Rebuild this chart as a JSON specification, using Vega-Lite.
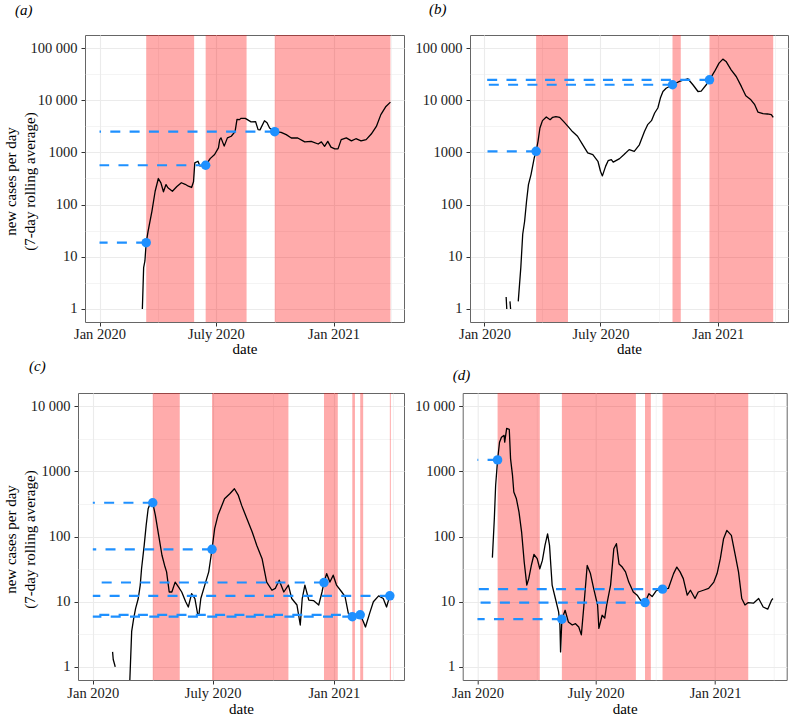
{
  "$schema": "https://vega.github.io/schema/vega-lite/v6.json",
  "padding": {"left": 2, "top": 1, "right": 0, "bottom": 0},
  "background": "#ffffff",
  "columns": 1,
  "bounds": "full",
  "align": "none",
  "spacing": 1,
  "config": {
    "font": "Liberation Serif",
    "view": {"stroke": "#666666", "strokeWidth": 1},
    "axis": {"labelFont": "Liberation Serif", "titleFont": "Liberation Serif", "labelFontSize": 14.5, "titleFontSize": 15, "titleFontWeight": "normal", "labelColor": "#1a1a1a", "titleColor": "#000000", "tickColor": "#333333", "tickSize": 4, "domain": false, "grid": true, "gridColor": "#ebebeb", "labelOverlap": false, "labelFlush": false},
    "title": {"font": "Liberation Serif", "fontSize": 15, "fontWeight": "normal", "fontStyle": "italic", "anchor": "start", "frame": "group", "color": "#000000"}
  },
  "datasets": {
    "lockdowns": [
      {"panel": "a", "start": "2020-03-14", "end": "2020-05-28"},
      {"panel": "a", "start": "2020-06-15", "end": "2020-08-18"},
      {"panel": "a", "start": "2020-10-01", "end": "2021-03-31"},
      {"panel": "b", "start": "2020-03-22", "end": "2020-05-11"},
      {"panel": "b", "start": "2020-10-22", "end": "2020-11-04"},
      {"panel": "b", "start": "2020-12-19", "end": "2021-03-29"},
      {"panel": "c", "start": "2020-04-01", "end": "2020-05-12"},
      {"panel": "c", "start": "2020-06-30", "end": "2020-10-24"},
      {"panel": "c", "start": "2020-12-17", "end": "2021-01-07"},
      {"panel": "c", "start": "2021-01-29", "end": "2021-02-02"},
      {"panel": "c", "start": "2021-02-10", "end": "2021-02-14T12:00:00Z"},
      {"panel": "c", "start": "2021-03-27", "end": "2021-03-28T12:00:00Z"},
      {"panel": "d", "start": "2020-02-01", "end": "2020-04-06"},
      {"panel": "d", "start": "2020-05-10", "end": "2020-09-01"},
      {"panel": "d", "start": "2020-09-15", "end": "2020-09-24"},
      {"panel": "d", "start": "2020-10-12", "end": "2021-02-21"}
    ],
    "markers": [
      {"panel": "a", "date": "2020-03-14", "value": 18.6},
      {"panel": "a", "date": "2020-06-15", "value": 567},
      {"panel": "a", "date": "2020-10-01", "value": 2500},
      {"panel": "b", "date": "2020-03-22", "value": 1050},
      {"panel": "b", "date": "2020-10-22", "value": 19800},
      {"panel": "b", "date": "2020-12-19", "value": 24650},
      {"panel": "c", "date": "2020-04-01", "value": 329},
      {"panel": "c", "date": "2020-06-30", "value": 63.7},
      {"panel": "c", "date": "2020-12-17", "value": 19.7},
      {"panel": "c", "date": "2021-01-29", "value": 5.9},
      {"panel": "c", "date": "2021-02-10", "value": 6.3},
      {"panel": "c", "date": "2021-03-27", "value": 12.3},
      {"panel": "d", "date": "2020-02-01", "value": 1495},
      {"panel": "d", "date": "2020-05-10", "value": 5.4},
      {"panel": "d", "date": "2020-09-15", "value": 9.7},
      {"panel": "d", "date": "2020-10-12", "value": 15.6}
    ],
    "cases": [
      {"panel": "a", "date": "2020-03-08", "value": 1.0},
      {"panel": "a", "date": "2020-03-10", "value": 6.2},
      {"panel": "a", "date": "2020-03-12", "value": 8.3},
      {"panel": "a", "date": "2020-03-14", "value": 18.6},
      {"panel": "a", "date": "2020-03-17", "value": 31},
      {"panel": "a", "date": "2020-03-23", "value": 75},
      {"panel": "a", "date": "2020-03-28", "value": 180},
      {"panel": "a", "date": "2020-04-02", "value": 316},
      {"panel": "a", "date": "2020-04-06", "value": 261},
      {"panel": "a", "date": "2020-04-10", "value": 176},
      {"panel": "a", "date": "2020-04-14", "value": 242},
      {"panel": "a", "date": "2020-04-17", "value": 210},
      {"panel": "a", "date": "2020-04-24", "value": 180},
      {"panel": "a", "date": "2020-05-01", "value": 222},
      {"panel": "a", "date": "2020-05-08", "value": 262},
      {"panel": "a", "date": "2020-05-14", "value": 245},
      {"panel": "a", "date": "2020-05-19", "value": 225},
      {"panel": "a", "date": "2020-05-24", "value": 213},
      {"panel": "a", "date": "2020-05-27", "value": 274},
      {"panel": "a", "date": "2020-05-29", "value": 630},
      {"panel": "a", "date": "2020-06-03", "value": 676},
      {"panel": "a", "date": "2020-06-06", "value": 550},
      {"panel": "a", "date": "2020-06-15", "value": 567},
      {"panel": "a", "date": "2020-06-22", "value": 760},
      {"panel": "a", "date": "2020-06-29", "value": 910},
      {"panel": "a", "date": "2020-07-05", "value": 1220},
      {"panel": "a", "date": "2020-07-07", "value": 1760},
      {"panel": "a", "date": "2020-07-09", "value": 1900},
      {"panel": "a", "date": "2020-07-14", "value": 1320},
      {"panel": "a", "date": "2020-07-19", "value": 1900},
      {"panel": "a", "date": "2020-07-25", "value": 2040},
      {"panel": "a", "date": "2020-07-31", "value": 2510},
      {"panel": "a", "date": "2020-08-03", "value": 4300},
      {"panel": "a", "date": "2020-08-07", "value": 4240},
      {"panel": "a", "date": "2020-08-09", "value": 4500},
      {"panel": "a", "date": "2020-08-16", "value": 4500},
      {"panel": "a", "date": "2020-08-25", "value": 3850},
      {"panel": "a", "date": "2020-09-01", "value": 3900},
      {"panel": "a", "date": "2020-09-05", "value": 2730},
      {"panel": "a", "date": "2020-09-08", "value": 2700},
      {"panel": "a", "date": "2020-09-15", "value": 4050},
      {"panel": "a", "date": "2020-09-19", "value": 3700},
      {"panel": "a", "date": "2020-09-23", "value": 2940},
      {"panel": "a", "date": "2020-10-01", "value": 2500},
      {"panel": "a", "date": "2020-10-11", "value": 2420},
      {"panel": "a", "date": "2020-10-19", "value": 2190},
      {"panel": "a", "date": "2020-10-27", "value": 1890},
      {"panel": "a", "date": "2020-11-06", "value": 1890},
      {"panel": "a", "date": "2020-11-17", "value": 1590},
      {"panel": "a", "date": "2020-11-27", "value": 1630},
      {"panel": "a", "date": "2020-12-08", "value": 1450},
      {"panel": "a", "date": "2020-12-13", "value": 1590},
      {"panel": "a", "date": "2020-12-18", "value": 1310},
      {"panel": "a", "date": "2020-12-23", "value": 1630},
      {"panel": "a", "date": "2020-12-28", "value": 1260},
      {"panel": "a", "date": "2021-01-03", "value": 1170},
      {"panel": "a", "date": "2021-01-08", "value": 1170},
      {"panel": "a", "date": "2021-01-13", "value": 1760},
      {"panel": "a", "date": "2021-01-21", "value": 1900},
      {"panel": "a", "date": "2021-01-29", "value": 1660},
      {"panel": "a", "date": "2021-02-05", "value": 1830},
      {"panel": "a", "date": "2021-02-13", "value": 1660},
      {"panel": "a", "date": "2021-02-21", "value": 1760},
      {"panel": "a", "date": "2021-03-01", "value": 2250},
      {"panel": "a", "date": "2021-03-09", "value": 3150},
      {"panel": "a", "date": "2021-03-16", "value": 5300},
      {"panel": "a", "date": "2021-03-24", "value": 7600},
      {"panel": "a", "date": "2021-03-31", "value": 9200},

      {"panel": "b", "date": "2020-02-04", "value": 1.7},
      {"panel": "b", "date": "2020-02-05", "value": 1.0},
      {"panel": "b", "date": "2020-02-07", "value": null},
      {"panel": "b", "date": "2020-02-10", "value": 1.4},
      {"panel": "b", "date": "2020-02-11", "value": 1.0},
      {"panel": "b", "date": "2020-02-16", "value": null},
      {"panel": "b", "date": "2020-02-23", "value": 1.4},
      {"panel": "b", "date": "2020-02-27", "value": 6.2},
      {"panel": "b", "date": "2020-03-01", "value": 27},
      {"panel": "b", "date": "2020-03-04", "value": 48},
      {"panel": "b", "date": "2020-03-07", "value": 116},
      {"panel": "b", "date": "2020-03-10", "value": 242},
      {"panel": "b", "date": "2020-03-14", "value": 376},
      {"panel": "b", "date": "2020-03-19", "value": 780},
      {"panel": "b", "date": "2020-03-22", "value": 1050},
      {"panel": "b", "date": "2020-03-25", "value": 1630},
      {"panel": "b", "date": "2020-03-28", "value": 2940},
      {"panel": "b", "date": "2020-04-01", "value": 4060},
      {"panel": "b", "date": "2020-04-07", "value": 4780},
      {"panel": "b", "date": "2020-04-13", "value": 4240},
      {"panel": "b", "date": "2020-04-17", "value": 4700},
      {"panel": "b", "date": "2020-04-22", "value": 4850},
      {"panel": "b", "date": "2020-04-28", "value": 4700},
      {"panel": "b", "date": "2020-05-04", "value": 3930},
      {"panel": "b", "date": "2020-05-11", "value": 3150},
      {"panel": "b", "date": "2020-05-18", "value": 2510},
      {"panel": "b", "date": "2020-05-26", "value": 2040},
      {"panel": "b", "date": "2020-06-03", "value": 1410},
      {"panel": "b", "date": "2020-06-11", "value": 980},
      {"panel": "b", "date": "2020-06-19", "value": 910},
      {"panel": "b", "date": "2020-06-27", "value": 676},
      {"panel": "b", "date": "2020-07-01", "value": 435},
      {"panel": "b", "date": "2020-07-04", "value": 355},
      {"panel": "b", "date": "2020-07-09", "value": 540},
      {"panel": "b", "date": "2020-07-13", "value": 695},
      {"panel": "b", "date": "2020-07-18", "value": 730},
      {"panel": "b", "date": "2020-07-21", "value": 650},
      {"panel": "b", "date": "2020-07-31", "value": 760},
      {"panel": "b", "date": "2020-08-07", "value": 910},
      {"panel": "b", "date": "2020-08-15", "value": 1130},
      {"panel": "b", "date": "2020-08-23", "value": 1050},
      {"panel": "b", "date": "2020-08-31", "value": 1400},
      {"panel": "b", "date": "2020-09-08", "value": 2510},
      {"panel": "b", "date": "2020-09-13", "value": 3400},
      {"panel": "b", "date": "2020-09-19", "value": 4060},
      {"panel": "b", "date": "2020-09-24", "value": 5690},
      {"panel": "b", "date": "2020-09-29", "value": 7100},
      {"panel": "b", "date": "2020-10-03", "value": 11000},
      {"panel": "b", "date": "2020-10-07", "value": 14700},
      {"panel": "b", "date": "2020-10-12", "value": 17000},
      {"panel": "b", "date": "2020-10-22", "value": 19800},
      {"panel": "b", "date": "2020-11-02", "value": 22900},
      {"panel": "b", "date": "2020-11-15", "value": 25800},
      {"panel": "b", "date": "2020-11-23", "value": 19800},
      {"panel": "b", "date": "2020-12-01", "value": 14700},
      {"panel": "b", "date": "2020-12-06", "value": 15000},
      {"panel": "b", "date": "2020-12-14", "value": 19800},
      {"panel": "b", "date": "2020-12-19", "value": 24650},
      {"panel": "b", "date": "2020-12-27", "value": 35600},
      {"panel": "b", "date": "2021-01-03", "value": 51500},
      {"panel": "b", "date": "2021-01-09", "value": 61300},
      {"panel": "b", "date": "2021-01-14", "value": 55400},
      {"panel": "b", "date": "2021-01-22", "value": 38200},
      {"panel": "b", "date": "2021-01-30", "value": 28500},
      {"panel": "b", "date": "2021-02-07", "value": 18400},
      {"panel": "b", "date": "2021-02-14", "value": 12200},
      {"panel": "b", "date": "2021-02-22", "value": 10200},
      {"panel": "b", "date": "2021-02-28", "value": 8200},
      {"panel": "b", "date": "2021-03-05", "value": 5940},
      {"panel": "b", "date": "2021-03-13", "value": 5520},
      {"panel": "b", "date": "2021-03-20", "value": 5450},
      {"panel": "b", "date": "2021-03-26", "value": 5300},
      {"panel": "b", "date": "2021-03-29", "value": 4690},

      {"panel": "c", "date": "2020-01-31", "value": 1.7},
      {"panel": "c", "date": "2020-02-01", "value": 1.3},
      {"panel": "c", "date": "2020-02-03", "value": 1.1},
      {"panel": "c", "date": "2020-02-04", "value": 1.0},
      {"panel": "c", "date": "2020-02-10", "value": null},
      {"panel": "c", "date": "2020-02-25", "value": 0.3},
      {"panel": "c", "date": "2020-02-29", "value": 3.5},
      {"panel": "c", "date": "2020-03-03", "value": 5.5},
      {"panel": "c", "date": "2020-03-06", "value": 7.9},
      {"panel": "c", "date": "2020-03-10", "value": 11.2},
      {"panel": "c", "date": "2020-03-13", "value": 18},
      {"panel": "c", "date": "2020-03-15", "value": 32},
      {"panel": "c", "date": "2020-03-19", "value": 73},
      {"panel": "c", "date": "2020-03-22", "value": 148},
      {"panel": "c", "date": "2020-03-25", "value": 266},
      {"panel": "c", "date": "2020-03-29", "value": 338},
      {"panel": "c", "date": "2020-04-01", "value": 329},
      {"panel": "c", "date": "2020-04-05", "value": 211},
      {"panel": "c", "date": "2020-04-10", "value": 104},
      {"panel": "c", "date": "2020-04-15", "value": 51.6},
      {"panel": "c", "date": "2020-04-19", "value": 36},
      {"panel": "c", "date": "2020-04-22", "value": 28.7},
      {"panel": "c", "date": "2020-04-26", "value": 14.1},
      {"panel": "c", "date": "2020-04-30", "value": 14.1},
      {"panel": "c", "date": "2020-05-05", "value": 20},
      {"panel": "c", "date": "2020-05-10", "value": 16.9},
      {"panel": "c", "date": "2020-05-15", "value": 14.1},
      {"panel": "c", "date": "2020-05-21", "value": 10},
      {"panel": "c", "date": "2020-05-25", "value": 8.3},
      {"panel": "c", "date": "2020-05-30", "value": 13.3},
      {"panel": "c", "date": "2020-06-04", "value": 11.2},
      {"panel": "c", "date": "2020-06-08", "value": 6.6},
      {"panel": "c", "date": "2020-06-10", "value": 6.2},
      {"panel": "c", "date": "2020-06-13", "value": 11.2},
      {"panel": "c", "date": "2020-06-19", "value": 18},
      {"panel": "c", "date": "2020-06-25", "value": 28.7},
      {"panel": "c", "date": "2020-06-30", "value": 63.7},
      {"panel": "c", "date": "2020-07-04", "value": 132},
      {"panel": "c", "date": "2020-07-09", "value": 211},
      {"panel": "c", "date": "2020-07-19", "value": 378},
      {"panel": "c", "date": "2020-07-27", "value": 452},
      {"panel": "c", "date": "2020-08-03", "value": 540},
      {"panel": "c", "date": "2020-08-09", "value": 426},
      {"panel": "c", "date": "2020-08-14", "value": 300},
      {"panel": "c", "date": "2020-08-22", "value": 187},
      {"panel": "c", "date": "2020-08-30", "value": 117},
      {"panel": "c", "date": "2020-09-06", "value": 73},
      {"panel": "c", "date": "2020-09-14", "value": 45.7},
      {"panel": "c", "date": "2020-09-21", "value": 20},
      {"panel": "c", "date": "2020-09-29", "value": 15},
      {"panel": "c", "date": "2020-10-04", "value": 16},
      {"panel": "c", "date": "2020-10-10", "value": 21.4},
      {"panel": "c", "date": "2020-10-17", "value": 14.1},
      {"panel": "c", "date": "2020-10-24", "value": 18},
      {"panel": "c", "date": "2020-10-29", "value": 11.2},
      {"panel": "c", "date": "2020-11-06", "value": 8.9},
      {"panel": "c", "date": "2020-11-11", "value": 4.4},
      {"panel": "c", "date": "2020-11-14", "value": 11.2},
      {"panel": "c", "date": "2020-11-18", "value": 18},
      {"panel": "c", "date": "2020-11-24", "value": 10.6},
      {"panel": "c", "date": "2020-12-01", "value": 10.4},
      {"panel": "c", "date": "2020-12-09", "value": 8.9},
      {"panel": "c", "date": "2020-12-14", "value": 14.1},
      {"panel": "c", "date": "2020-12-17", "value": 19.7},
      {"panel": "c", "date": "2020-12-21", "value": 27},
      {"panel": "c", "date": "2020-12-26", "value": 20},
      {"panel": "c", "date": "2020-12-31", "value": 25.5},
      {"panel": "c", "date": "2021-01-05", "value": 18},
      {"panel": "c", "date": "2021-01-13", "value": 14.1},
      {"panel": "c", "date": "2021-01-18", "value": 12},
      {"panel": "c", "date": "2021-01-23", "value": 6.6},
      {"panel": "c", "date": "2021-01-29", "value": 5.9},
      {"panel": "c", "date": "2021-02-05", "value": 6.2},
      {"panel": "c", "date": "2021-02-10", "value": 6.3},
      {"panel": "c", "date": "2021-02-15", "value": 4.9},
      {"panel": "c", "date": "2021-02-18", "value": 4.1},
      {"panel": "c", "date": "2021-02-25", "value": 7.0},
      {"panel": "c", "date": "2021-03-02", "value": 10},
      {"panel": "c", "date": "2021-03-10", "value": 12.3},
      {"panel": "c", "date": "2021-03-17", "value": 11.2},
      {"panel": "c", "date": "2021-03-22", "value": 8.3},
      {"panel": "c", "date": "2021-03-27", "value": 12.3},

      {"panel": "d", "date": "2020-01-24", "value": 47.4},
      {"panel": "d", "date": "2020-01-27", "value": 187},
      {"panel": "d", "date": "2020-01-29", "value": 606},
      {"panel": "d", "date": "2020-02-01", "value": 1495},
      {"panel": "d", "date": "2020-02-04", "value": 2790},
      {"panel": "d", "date": "2020-02-07", "value": 3330},
      {"panel": "d", "date": "2020-02-11", "value": 3550},
      {"panel": "d", "date": "2020-02-12", "value": 2790},
      {"panel": "d", "date": "2020-02-15", "value": 4550},
      {"panel": "d", "date": "2020-02-19", "value": 4400},
      {"panel": "d", "date": "2020-02-21", "value": 1550},
      {"panel": "d", "date": "2020-02-24", "value": 863},
      {"panel": "d", "date": "2020-02-26", "value": 480},
      {"panel": "d", "date": "2020-03-01", "value": 378},
      {"panel": "d", "date": "2020-03-05", "value": 237},
      {"panel": "d", "date": "2020-03-09", "value": 117},
      {"panel": "d", "date": "2020-03-13", "value": 40.7},
      {"panel": "d", "date": "2020-03-17", "value": 18},
      {"panel": "d", "date": "2020-03-20", "value": 22.6},
      {"panel": "d", "date": "2020-03-24", "value": 36},
      {"panel": "d", "date": "2020-03-28", "value": 53},
      {"panel": "d", "date": "2020-04-02", "value": 45.7},
      {"panel": "d", "date": "2020-04-06", "value": 32},
      {"panel": "d", "date": "2020-04-10", "value": 43},
      {"panel": "d", "date": "2020-04-14", "value": 73},
      {"panel": "d", "date": "2020-04-18", "value": 110},
      {"panel": "d", "date": "2020-04-21", "value": 73},
      {"panel": "d", "date": "2020-04-23", "value": 36},
      {"panel": "d", "date": "2020-04-25", "value": 18},
      {"panel": "d", "date": "2020-04-30", "value": 11.2},
      {"panel": "d", "date": "2020-05-05", "value": 7.0},
      {"panel": "d", "date": "2020-05-07", "value": 4.4},
      {"panel": "d", "date": "2020-05-08", "value": 1.7},
      {"panel": "d", "date": "2020-05-10", "value": 5.4},
      {"panel": "d", "date": "2020-05-15", "value": 7.4},
      {"panel": "d", "date": "2020-05-20", "value": 4.9},
      {"panel": "d", "date": "2020-05-26", "value": 4.4},
      {"panel": "d", "date": "2020-05-31", "value": 4.6},
      {"panel": "d", "date": "2020-06-05", "value": 4.1},
      {"panel": "d", "date": "2020-06-09", "value": 3.1},
      {"panel": "d", "date": "2020-06-13", "value": 8.9},
      {"panel": "d", "date": "2020-06-18", "value": 36},
      {"panel": "d", "date": "2020-06-23", "value": 27},
      {"panel": "d", "date": "2020-06-28", "value": 15.9},
      {"panel": "d", "date": "2020-07-04", "value": 8.9},
      {"panel": "d", "date": "2020-07-06", "value": 3.9},
      {"panel": "d", "date": "2020-07-11", "value": 6.2},
      {"panel": "d", "date": "2020-07-15", "value": 5.6},
      {"panel": "d", "date": "2020-07-18", "value": 8.9},
      {"panel": "d", "date": "2020-07-24", "value": 18},
      {"panel": "d", "date": "2020-07-29", "value": 65},
      {"panel": "d", "date": "2020-08-02", "value": 77.6},
      {"panel": "d", "date": "2020-08-06", "value": 38},
      {"panel": "d", "date": "2020-08-11", "value": 34},
      {"panel": "d", "date": "2020-08-16", "value": 28.7},
      {"panel": "d", "date": "2020-08-21", "value": 20},
      {"panel": "d", "date": "2020-08-28", "value": 14.1},
      {"panel": "d", "date": "2020-09-03", "value": 12.6},
      {"panel": "d", "date": "2020-09-08", "value": 10.6},
      {"panel": "d", "date": "2020-09-15", "value": 9.7},
      {"panel": "d", "date": "2020-09-21", "value": 13.3},
      {"panel": "d", "date": "2020-09-26", "value": 12},
      {"panel": "d", "date": "2020-10-03", "value": 15},
      {"panel": "d", "date": "2020-10-12", "value": 15.6},
      {"panel": "d", "date": "2020-10-21", "value": 16},
      {"panel": "d", "date": "2020-10-29", "value": 27},
      {"panel": "d", "date": "2020-11-03", "value": 34},
      {"panel": "d", "date": "2020-11-08", "value": 28.7},
      {"panel": "d", "date": "2020-11-13", "value": 22.6},
      {"panel": "d", "date": "2020-11-19", "value": 12.6},
      {"panel": "d", "date": "2020-11-24", "value": 15},
      {"panel": "d", "date": "2020-12-01", "value": 11.2},
      {"panel": "d", "date": "2020-12-06", "value": 14.1},
      {"panel": "d", "date": "2020-12-14", "value": 15},
      {"panel": "d", "date": "2020-12-22", "value": 16},
      {"panel": "d", "date": "2020-12-30", "value": 20},
      {"panel": "d", "date": "2021-01-04", "value": 27},
      {"panel": "d", "date": "2021-01-09", "value": 45.7},
      {"panel": "d", "date": "2021-01-14", "value": 92.5},
      {"panel": "d", "date": "2021-01-19", "value": 124},
      {"panel": "d", "date": "2021-01-26", "value": 104},
      {"panel": "d", "date": "2021-02-01", "value": 51.6},
      {"panel": "d", "date": "2021-02-06", "value": 28.7},
      {"panel": "d", "date": "2021-02-11", "value": 11.2},
      {"panel": "d", "date": "2021-02-16", "value": 8.9},
      {"panel": "d", "date": "2021-02-21", "value": 9.7},
      {"panel": "d", "date": "2021-03-01", "value": 9.5},
      {"panel": "d", "date": "2021-03-09", "value": 11.2},
      {"panel": "d", "date": "2021-03-16", "value": 8.3},
      {"panel": "d", "date": "2021-03-23", "value": 7.7},
      {"panel": "d", "date": "2021-03-29", "value": 10.6},
      {"panel": "d", "date": "2021-03-31", "value": 11.2}
    ]
  },
  "concat": [
    {
      "hconcat": [
        {"width": 7, "height": 287, "data": {"values": []}, "mark": {"type": "point"}, "view": {"stroke": null}},
        {
          "width": 319, "height": 287,
          "title": {"text": "(a)", "dx": -70, "offset": 17},
          "layer": [
            {"data": {"name": "lockdowns"}, "transform": [{"filter": "datum.panel == 'a'"}],
             "mark": {"type": "rect", "color": "#ff0000", "opacity": 0.33},
             "encoding": {"x": {"field": "start", "type": "temporal", "scale": {"type": "utc", "domain": [{"year": 2019, "month": 12, "date": 9, "hours": 7, "utc": true}, {"year": 2021, "month": 4, "date": 21, "hours": 5, "utc": true}]}}, "x2": {"field": "end"}}},
            {"data": {"name": "cases"}, "transform": [{"filter": "datum.panel == 'a'"}],
             "mark": {"type": "line", "color": "#000000", "strokeWidth": 1.3, "strokeJoin": "round", "clip": true},
             "encoding": {
               "x": {"field": "date", "type": "temporal", "scale": {"type": "utc", "domain": [{"year": 2019, "month": 12, "date": 9, "hours": 7, "utc": true}, {"year": 2021, "month": 4, "date": 21, "hours": 5, "utc": true}]},
                     "axis": {"title": "date", "values": [{"year": 2020, "month": 1, "date": 1, "utc": true}, {"year": 2020, "month": 4, "date": 1, "utc": true}, {"year": 2020, "month": 7, "date": 1, "utc": true}, {"year": 2020, "month": 10, "date": 1, "utc": true}, {"year": 2021, "month": 1, "date": 1, "utc": true}, {"year": 2021, "month": 4, "date": 1, "hours": 12, "utc": true}],
                              "labelExpr": "utcmonth(datum.value) == 0 ? 'Jan ' + utcyear(datum.value) : utcmonth(datum.value) == 6 ? 'July ' + utcyear(datum.value) : ''",
                              "gridWidth": {"condition": {"test": "utcmonth(datum.value) == 3 || utcmonth(datum.value) == 9", "value": 0.55}, "value": 1.1},
                              "tickOpacity": {"condition": {"test": "utcmonth(datum.value) == 3 || utcmonth(datum.value) == 9", "value": 0}, "value": 1},
                              "labelPadding": 1, "titlePadding": 1}},
               "y": {"field": "value", "type": "quantitative", "scale": {"type": "log", "domain": [0.5623, 177828], "nice": false},
                     "axis": {"title": ["new cases per day", "(7-day rolling average)"], "titleX": -67, "titleY": 146, "titleLineHeight": 19, "titleAlign": "center", "titleBaseline": "bottom", "titleAngle": -90,
                              "values": [1, 3.1623, 10, 31.623, 100, 316.23, 1000, 3162.3, 10000, 31623, 100000],
                              "labelExpr": "datum.value == 100000 ? '100 000' : datum.value == 10000 ? '10 000' : (abs(log(datum.value)/LN10 - round(log(datum.value)/LN10)) < 0.1 ? format(datum.value, 'd') : '')",
                              "gridWidth": {"condition": {"test": "abs(log(datum.value)/LN10 - round(log(datum.value)/LN10)) > 0.1", "value": 0.55}, "value": 1.1},
                              "tickOpacity": {"condition": {"test": "abs(log(datum.value)/LN10 - round(log(datum.value)/LN10)) > 0.1", "value": 0}, "value": 1},
                              "labelPadding": 4}}}},
            {"data": {"name": "markers"}, "transform": [{"filter": "datum.panel == 'a'"}],
             "mark": {"type": "rule", "color": "#1e90ff", "strokeWidth": 2.2, "strokeDash": [10, 9.3]},
             "encoding": {"x": {"field": "date", "type": "temporal"}, "x2": {"datum": {"year": 2020, "month": 1, "date": 1, "utc": true}}, "y": {"field": "value", "type": "quantitative"}}},
            {"data": {"name": "markers"}, "transform": [{"filter": "datum.panel == 'a'"}],
             "mark": {"type": "circle", "color": "#1e90ff", "opacity": 1, "size": 90},
             "encoding": {"x": {"field": "date", "type": "temporal"}, "y": {"field": "value", "type": "quantitative"}}}
          ]
        },
        {"width": 65.7, "height": 287, "data": {"values": []}, "mark": {"type": "point"}, "view": {"stroke": null}},
        {
          "width": 318, "height": 287,
          "title": {"text": "(b)", "dx": -41, "offset": 18},
          "layer": [
            {"data": {"name": "lockdowns"}, "transform": [{"filter": "datum.panel == 'b'"}],
             "mark": {"type": "rect", "color": "#ff0000", "opacity": 0.33},
             "encoding": {"x": {"field": "start", "type": "temporal", "scale": {"type": "utc", "domain": [{"year": 2019, "month": 12, "date": 9, "hours": 7, "utc": true}, {"year": 2021, "month": 4, "date": 21, "hours": 5, "utc": true}]}}, "x2": {"field": "end"}}},
            {"data": {"name": "cases"}, "transform": [{"filter": "datum.panel == 'b'"}],
             "mark": {"type": "line", "color": "#000000", "strokeWidth": 1.3, "strokeJoin": "round", "clip": true},
             "encoding": {
               "x": {"field": "date", "type": "temporal", "scale": {"type": "utc", "domain": [{"year": 2019, "month": 12, "date": 9, "hours": 7, "utc": true}, {"year": 2021, "month": 4, "date": 21, "hours": 5, "utc": true}]},
                     "axis": {"title": "date", "values": [{"year": 2020, "month": 1, "date": 1, "utc": true}, {"year": 2020, "month": 4, "date": 1, "utc": true}, {"year": 2020, "month": 7, "date": 1, "utc": true}, {"year": 2020, "month": 10, "date": 1, "utc": true}, {"year": 2021, "month": 1, "date": 1, "utc": true}, {"year": 2021, "month": 4, "date": 1, "hours": 12, "utc": true}],
                              "labelExpr": "utcmonth(datum.value) == 0 ? 'Jan ' + utcyear(datum.value) : utcmonth(datum.value) == 6 ? 'July ' + utcyear(datum.value) : ''",
                              "gridWidth": {"condition": {"test": "utcmonth(datum.value) == 3 || utcmonth(datum.value) == 9", "value": 0.55}, "value": 1.1},
                              "tickOpacity": {"condition": {"test": "utcmonth(datum.value) == 3 || utcmonth(datum.value) == 9", "value": 0}, "value": 1},
                              "labelPadding": 1, "titlePadding": 1}},
               "y": {"field": "value", "type": "quantitative", "scale": {"type": "log", "domain": [0.5623, 177828], "nice": false},
                     "axis": {"title": null,
                              "values": [1, 3.1623, 10, 31.623, 100, 316.23, 1000, 3162.3, 10000, 31623, 100000],
                              "labelExpr": "datum.value == 100000 ? '100 000' : datum.value == 10000 ? '10 000' : (abs(log(datum.value)/LN10 - round(log(datum.value)/LN10)) < 0.1 ? format(datum.value, 'd') : '')",
                              "gridWidth": {"condition": {"test": "abs(log(datum.value)/LN10 - round(log(datum.value)/LN10)) > 0.1", "value": 0.55}, "value": 1.1},
                              "tickOpacity": {"condition": {"test": "abs(log(datum.value)/LN10 - round(log(datum.value)/LN10)) > 0.1", "value": 0}, "value": 1},
                              "labelPadding": 4}}}},
            {"data": {"name": "markers"}, "transform": [{"filter": "datum.panel == 'b'"}],
             "mark": {"type": "rule", "color": "#1e90ff", "strokeWidth": 2.2, "strokeDash": [10, 9.3]},
             "encoding": {"x": {"field": "date", "type": "temporal"}, "x2": {"datum": {"year": 2020, "month": 1, "date": 1, "utc": true}}, "y": {"field": "value", "type": "quantitative"}}},
            {"data": {"name": "markers"}, "transform": [{"filter": "datum.panel == 'b'"}],
             "mark": {"type": "circle", "color": "#1e90ff", "opacity": 1, "size": 90},
             "encoding": {"x": {"field": "date", "type": "temporal"}, "y": {"field": "value", "type": "quantitative"}}}
          ]
        }
      ],
      "spacing": 0,
      "bounds": "flush"
    },
    {
      "hconcat": [
        {
          "width": 326, "height": 287,
          "title": {"text": "(c)", "dx": -49, "offset": 18.7},
          "layer": [
            {"data": {"name": "lockdowns"}, "transform": [{"filter": "datum.panel == 'c'"}],
             "mark": {"type": "rect", "color": "#ff0000", "opacity": 0.33},
             "encoding": {"x": {"field": "start", "type": "temporal", "scale": {"type": "utc", "domain": [{"year": 2019, "month": 12, "date": 9, "hours": 12, "utc": true}, {"year": 2021, "month": 4, "date": 17, "hours": 12, "utc": true}]}}, "x2": {"field": "end"}}},
            {"data": {"name": "cases"}, "transform": [{"filter": "datum.panel == 'c'"}],
             "mark": {"type": "line", "color": "#000000", "strokeWidth": 1.3, "strokeJoin": "round", "clip": true},
             "encoding": {
               "x": {"field": "date", "type": "temporal", "scale": {"type": "utc", "domain": [{"year": 2019, "month": 12, "date": 9, "hours": 12, "utc": true}, {"year": 2021, "month": 4, "date": 17, "hours": 12, "utc": true}]},
                     "axis": {"title": "date", "values": [{"year": 2020, "month": 1, "date": 1, "utc": true}, {"year": 2020, "month": 4, "date": 1, "utc": true}, {"year": 2020, "month": 7, "date": 1, "utc": true}, {"year": 2020, "month": 10, "date": 1, "utc": true}, {"year": 2021, "month": 1, "date": 1, "utc": true}, {"year": 2021, "month": 4, "date": 1, "hours": 12, "utc": true}],
                              "labelExpr": "utcmonth(datum.value) == 0 ? 'Jan ' + utcyear(datum.value) : utcmonth(datum.value) == 6 ? 'July ' + utcyear(datum.value) : ''",
                              "gridWidth": {"condition": {"test": "utcmonth(datum.value) == 3 || utcmonth(datum.value) == 9", "value": 0.55}, "value": 1.1},
                              "tickOpacity": {"condition": {"test": "utcmonth(datum.value) == 3 || utcmonth(datum.value) == 9", "value": 0}, "value": 1},
                              "labelPadding": 2, "titlePadding": 2}},
               "y": {"field": "value", "type": "quantitative", "scale": {"type": "log", "domain": [0.631, 15849], "nice": false},
                     "axis": {"title": ["new cases per day", "(7-day rolling average)"], "titleX": -60, "titleY": 146, "titleLineHeight": 19, "titleAlign": "center", "titleBaseline": "bottom", "titleAngle": -90,
                              "values": [1, 3.1623, 10, 31.623, 100, 316.23, 1000, 3162.3, 10000],
                              "labelExpr": "datum.value == 10000 ? '10 000' : (abs(log(datum.value)/LN10 - round(log(datum.value)/LN10)) < 0.1 ? format(datum.value, 'd') : '')",
                              "gridWidth": {"condition": {"test": "abs(log(datum.value)/LN10 - round(log(datum.value)/LN10)) > 0.1", "value": 0.55}, "value": 1.1},
                              "tickOpacity": {"condition": {"test": "abs(log(datum.value)/LN10 - round(log(datum.value)/LN10)) > 0.1", "value": 0}, "value": 1},
                              "labelPadding": 4}}}},
            {"data": {"name": "markers"}, "transform": [{"filter": "datum.panel == 'c'"}],
             "mark": {"type": "rule", "color": "#1e90ff", "strokeWidth": 2.2, "strokeDash": [10, 9.3]},
             "encoding": {"x": {"field": "date", "type": "temporal"}, "x2": {"datum": {"year": 2020, "month": 1, "date": 1, "utc": true}}, "y": {"field": "value", "type": "quantitative"}}},
            {"data": {"name": "markers"}, "transform": [{"filter": "datum.panel == 'c'"}],
             "mark": {"type": "circle", "color": "#1e90ff", "opacity": 1, "size": 90},
             "encoding": {"x": {"field": "date", "type": "temporal"}, "y": {"field": "value", "type": "quantitative"}}}
          ]
        },
        {
          "width": 324, "height": 287,
          "title": {"text": "(d)", "dx": -10, "offset": 9.7},
          "layer": [
            {"data": {"name": "lockdowns"}, "transform": [{"filter": "datum.panel == 'd'"}],
             "mark": {"type": "rect", "color": "#ff0000", "opacity": 0.33},
             "encoding": {"x": {"field": "start", "type": "temporal", "scale": {"type": "utc", "domain": [{"year": 2019, "month": 12, "date": 9, "hours": 7, "utc": true}, {"year": 2021, "month": 4, "date": 21, "hours": 5, "utc": true}]}}, "x2": {"field": "end"}}},
            {"data": {"name": "cases"}, "transform": [{"filter": "datum.panel == 'd'"}],
             "mark": {"type": "line", "color": "#000000", "strokeWidth": 1.3, "strokeJoin": "round", "clip": true},
             "encoding": {
               "x": {"field": "date", "type": "temporal", "scale": {"type": "utc", "domain": [{"year": 2019, "month": 12, "date": 9, "hours": 7, "utc": true}, {"year": 2021, "month": 4, "date": 21, "hours": 5, "utc": true}]},
                     "axis": {"title": "date", "values": [{"year": 2020, "month": 1, "date": 1, "utc": true}, {"year": 2020, "month": 4, "date": 1, "utc": true}, {"year": 2020, "month": 7, "date": 1, "utc": true}, {"year": 2020, "month": 10, "date": 1, "utc": true}, {"year": 2021, "month": 1, "date": 1, "utc": true}, {"year": 2021, "month": 4, "date": 1, "hours": 12, "utc": true}],
                              "labelExpr": "utcmonth(datum.value) == 0 ? 'Jan ' + utcyear(datum.value) : utcmonth(datum.value) == 6 ? 'July ' + utcyear(datum.value) : ''",
                              "gridWidth": {"condition": {"test": "utcmonth(datum.value) == 3 || utcmonth(datum.value) == 9", "value": 0.55}, "value": 1.1},
                              "tickOpacity": {"condition": {"test": "utcmonth(datum.value) == 3 || utcmonth(datum.value) == 9", "value": 0}, "value": 1},
                              "labelPadding": 2, "titlePadding": 2}},
               "y": {"field": "value", "type": "quantitative", "scale": {"type": "log", "domain": [0.631, 15849], "nice": false},
                     "axis": {"title": null,
                              "values": [1, 3.1623, 10, 31.623, 100, 316.23, 1000, 3162.3, 10000],
                              "labelExpr": "datum.value == 10000 ? '10 000' : (abs(log(datum.value)/LN10 - round(log(datum.value)/LN10)) < 0.1 ? format(datum.value, 'd') : '')",
                              "gridWidth": {"condition": {"test": "abs(log(datum.value)/LN10 - round(log(datum.value)/LN10)) > 0.1", "value": 0.55}, "value": 1.1},
                              "tickOpacity": {"condition": {"test": "abs(log(datum.value)/LN10 - round(log(datum.value)/LN10)) > 0.1", "value": 0}, "value": 1},
                              "labelPadding": 4}}}},
            {"data": {"name": "markers"}, "transform": [{"filter": "datum.panel == 'd'"}],
             "mark": {"type": "rule", "color": "#1e90ff", "strokeWidth": 2.2, "strokeDash": [10, 9.3]},
             "encoding": {"x": {"field": "date", "type": "temporal"}, "x2": {"datum": {"year": 2020, "month": 1, "date": 1, "utc": true}}, "y": {"field": "value", "type": "quantitative"}}},
            {"data": {"name": "markers"}, "transform": [{"filter": "datum.panel == 'd'"}],
             "mark": {"type": "circle", "color": "#1e90ff", "opacity": 1, "size": 90},
             "encoding": {"x": {"field": "date", "type": "temporal"}, "y": {"field": "value", "type": "quantitative"}}}
          ]
        }
      ],
      "spacing": 58.7,
      "bounds": "flush"
    }
  ]
}
